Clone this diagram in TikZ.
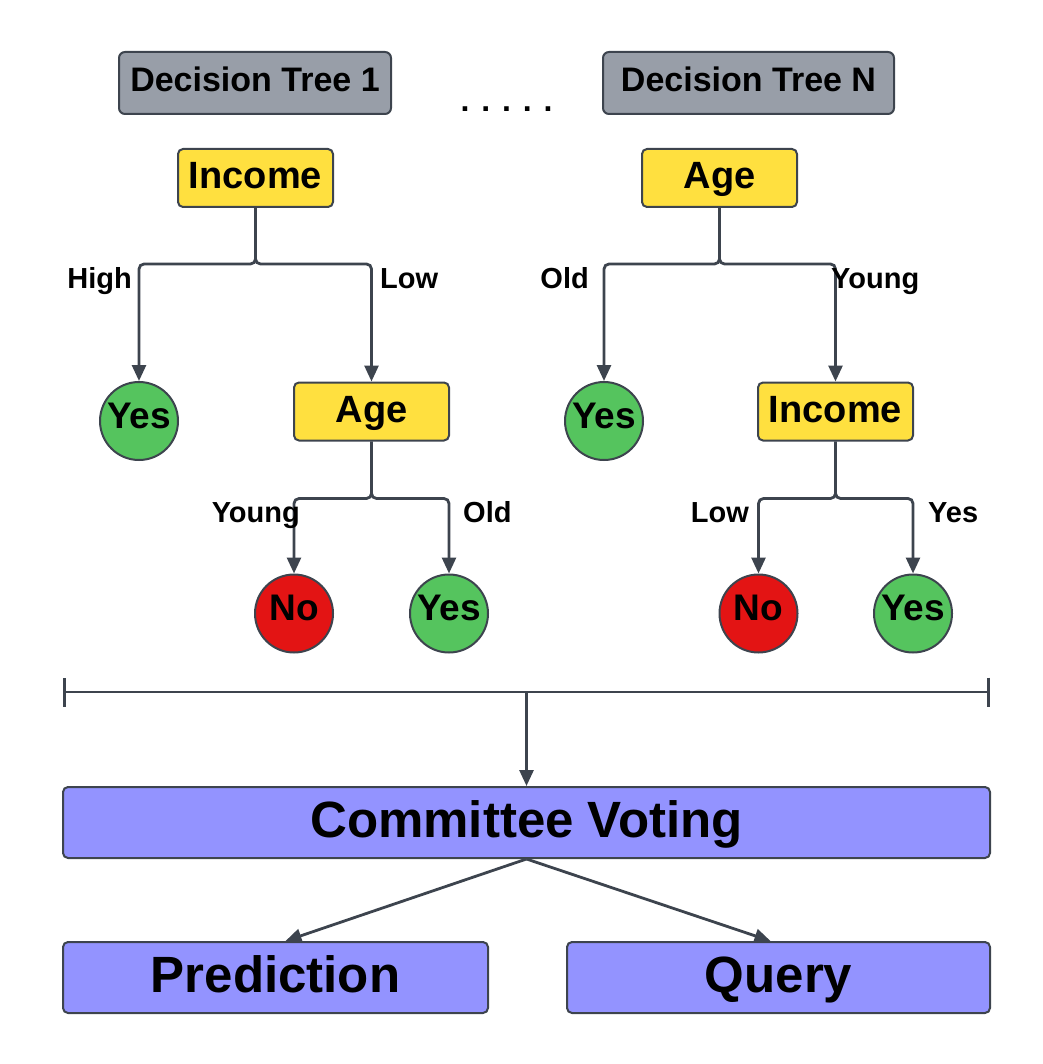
\documentclass[tikz,border=0pt]{standalone}
\usepackage{fontspec}
\setmainfont{Liberation Sans}
\usetikzlibrary{arrows.meta}
\definecolor{edgegray}{HTML}{3D444E}
\definecolor{titlegray}{HTML}{989EA8}
\definecolor{splityellow}{HTML}{FFE03F}
\definecolor{leafgreen}{HTML}{55C45E}
\definecolor{leafred}{HTML}{E31414}
\definecolor{votepurple}{HTML}{9393FF}

\begin{document}
\begin{tikzpicture}[x=1pt,y=-1pt,
  treetitle/.style={shape=rectangle,rounded corners=6pt,draw=edgegray,line width=2pt,fill=titlegray,minimum width=272pt,minimum height=62pt,text height=24.4pt,text depth=6.4pt,font=\fontsize{34}{40}\selectfont\bfseries},
  split/.style={shape=rectangle,rounded corners=5pt,draw=edgegray,line width=2pt,fill=splityellow,minimum width=155pt,minimum height=58pt,text height=27pt,text depth=6pt,font=\fontsize{38}{44}\selectfont\bfseries},
  leaf/.style={shape=circle,draw=edgegray,line width=2pt,minimum size=78pt,inner sep=0pt,text height=26.5pt,text depth=12.5pt,font=\fontsize{37}{44}\selectfont\bfseries},
  vote/.style={shape=rectangle,rounded corners=5pt,draw=edgegray,line width=2pt,fill=votepurple,minimum height=71pt,text height=36.5pt,text depth=7.5pt,font=\fontsize{51}{60}\selectfont\bfseries},
  lbl/.style={inner sep=0pt,font=\fontsize{29}{34}\selectfont\bfseries},
  branch/.style={draw=edgegray,line width=2.8pt,rounded corners=5pt,-{Triangle[length=16pt,width=14pt]}},
  influences/.style={draw=edgegray,line width=2.8pt,-{Triangle[length=16pt,width=14pt]}}]
\useasboundingbox (0,0) rectangle (1042,1064);
% titles
\node[treetitle] (T1) at (255,83) {Decision Tree 1};
\node[treetitle,minimum width=291pt] (TN) at (748.5,83) {Decision Tree N};
\node[inner sep=0pt,anchor=base,font=\fontsize{32}{38}\selectfont\bfseries] (dots) at (506.5,112) {. . . . .};
% tree 1
\node[split] (inc1) at (255.5,178) {Income};
\node[leaf,fill=leafgreen] (yes1) at (139,421) {Yes};
\node[split] (age1) at (371.5,411.5) {Age};
\node[leaf,fill=leafred] (no1) at (294,613.5) {No};
\node[leaf,fill=leafgreen] (yes2) at (449,613.5) {Yes};
\draw[branch] (inc1.south) -- ++(0,56) -| (yes1.north);
\draw[branch] (inc1.south) -- ++(0,56) -| (age1.north);
\draw[branch] (age1.south) -- ++(0,57) -| (no1.north);
\draw[branch] (age1.south) -- ++(0,57) -| (yes2.north);
\node[lbl,anchor=base east] (high1) at (132,288) {High};
\node[lbl,anchor=base west] (low1) at (380,288) {Low};
\node[lbl,anchor=base east] (young1) at (300,522) {Young};
\node[lbl,anchor=base west] (old1) at (463,522) {Old};
% tree N
\node[split] (ageN) at (719.5,178) {Age};
\node[leaf,fill=leafgreen] (yesN1) at (604,421) {Yes};
\node[split] (incN) at (835.5,411.5) {Income};
\node[leaf,fill=leafred] (noN) at (758.5,613.5) {No};
\node[leaf,fill=leafgreen] (yesN2) at (913,613.5) {Yes};
\draw[branch] (ageN.south) -- ++(0,56) -| (yesN1.north);
\draw[branch] (ageN.south) -- ++(0,56) -| (incN.north);
\draw[branch] (incN.south) -- ++(0,57) -| (noN.north);
\draw[branch] (incN.south) -- ++(0,57) -| (yesN2.north);
\node[lbl,anchor=base east] (oldN) at (589,288) {Old};
\node[lbl,anchor=base west] (youngN) at (831,288) {Young};
\node[lbl,anchor=base east] (lowN) at (749,522) {Low};
\node[lbl,anchor=base west] (yesNl) at (928,522) {Yes};
% committee
\coordinate (bl) at (63,692);
\coordinate (br) at (990,692);
\coordinate (bm) at (526.5,692);
\draw[draw=edgegray,line width=2.8pt,{Bar[width=29pt]}-{Bar[width=29pt]}] (bl) -- (br);
\node[vote,minimum width=927pt] (V) at (526.5,822.5) {Committee Voting};
\node[vote,minimum width=425pt] (P) at (275.5,977.5) {Prediction};
\node[vote,minimum width=423pt] (Q) at (778.5,977.5) {Query};
\draw[influences] (bm) -- (V);
\draw[influences] (V.south) -- ([xshift=10pt]P.north);
\draw[influences] (V.south) -- ([xshift=-8pt]Q.north);
\end{tikzpicture}
\end{document}
